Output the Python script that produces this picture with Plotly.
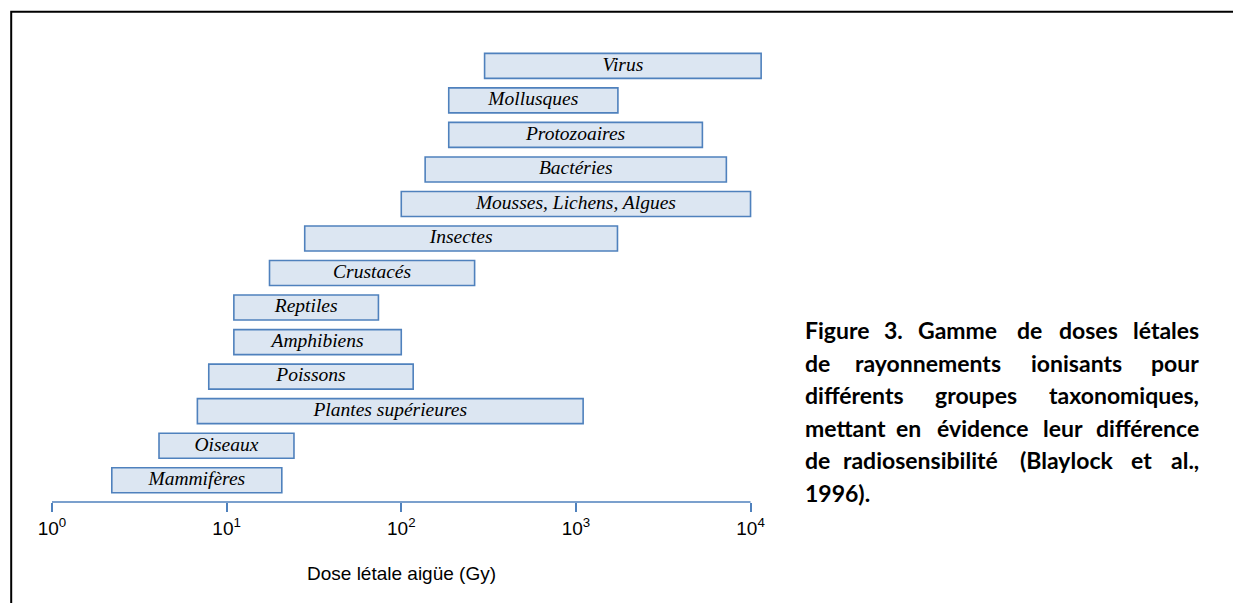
import plotly.graph_objects as go
import numpy as np

# ---------------- data ----------------
groups = ["Mammifères", "Oiseaux", "Plantes supérieures", "Poissons", "Amphibiens",
          "Reptiles", "Crustacés", "Insectes", "Mousses, Lichens, Algues",
          "Bactéries", "Protozoaires", "Mollusques", "Virus"]
dose_min = [2.2, 4.1, 6.8, 7.9, 11, 11, 17.6, 28, 100, 137, 187, 187, 300]
dose_max = [20.7, 24.3, 1100, 117, 100, 74, 263, 1730, 10000, 7270, 5300, 1740, 11500]
tick_vals = [1, 10, 100, 1000, 10000]
tick_text = ["10<sup>0</sup>", "10<sup>1</sup>", "10<sup>2</sup>", "10<sup>3</sup>", "10<sup>4</sup>"]
axis_title = "Dose létale aigüe (Gy)"
caption_lines = [
    ["Figure", "3.", "Gamme", "de", "doses", "létales"],
    ["de", "rayonnements", "ionisants", "pour"],
    ["différents", "groupes", "taxonomiques,"],
    ["mettant", "en", "évidence", "leur", "différence"],
    ["de", "radiosensibilité", "(Blaylock", "et", "al.,"],
    ["1996)."],
]

# ---------------- layout geometry (pixels) ----------------
W, H = 1233, 603
ML, MR, MT, MB = 52, 465, 45, 101
PW, PH = W - ML - MR, H - MT - MB
X_RANGE = [0, 4.1]
STEP = 34.53
y_bottom = -0.631
y_top = y_bottom + PH / STEP

def pxx(px):
    return (px - ML) / PW

def pxy(py):
    return (H - MB - py) / PH

blue = "#4F81BD"
fill = "#DCE6F2"

y_pos = list(range(len(groups)))
lo = np.array(dose_min, dtype=float)
hi = np.array(dose_max, dtype=float)
centers = 10 ** ((np.log10(lo) + np.log10(hi)) / 2)

fig = go.Figure()
fig.add_trace(go.Bar(
    y=y_pos, x=hi - lo, base=lo, orientation="h", width=0.724,
    marker=dict(color=fill, line=dict(color=blue, width=1.6)),
    hoverinfo="skip", showlegend=False,
))
fig.add_trace(go.Scatter(
    y=y_pos, x=centers, mode="text", text=groups,
    textposition="middle center", cliponaxis=False,
    textfont=dict(family="Liberation Serif, Times New Roman, serif", size=19.5,
                  color="black", style="italic"),
    hoverinfo="skip", showlegend=False,
))

fig.update_xaxes(
    type="log", range=X_RANGE, showgrid=False, zeroline=False,
    showline=False,
    ticks="outside", ticklen=9, tickwidth=1.6, tickcolor=blue,
    tickvals=tick_vals, ticktext=tick_text,
    tickfont=dict(family="Liberation Sans, Arial, sans-serif", size=19, color="black"),
    automargin=False,
)
fig.update_yaxes(visible=False, range=[y_bottom, y_top], automargin=False)

annotations = [dict(
    text=axis_title, xref="paper", yref="paper", x=pxx(401), y=pxy(573),
    xanchor="center", yanchor="middle", showarrow=False,
    font=dict(family="Liberation Sans, Arial, sans-serif", size=19, color="black"),
)]

# caption, justified word by word
cap_font = dict(family="Lato, Open Sans, sans-serif", size=23, color="black", weight="bold")
word_x = [
    [("l", 803), ("c", 893), ("c", 958), ("c", 1029), ("c", 1088), ("r", 1201)],
    [("l", 803), ("c", 928), ("c", 1076), ("r", 1201)],
    [("l", 803), ("c", 976), ("r", 1201)],
    [("l", 803), ("c", 908), ("c", 982), ("c", 1063), ("r", 1201)],
    [("l", 803), ("c", 921), ("c", 1066), ("c", 1141), ("r", 1201)],
    [("l", 803)],
]
anch = {"l": "left", "c": "center", "r": "right"}
for i, (words, pos) in enumerate(zip(caption_lines, word_x)):
    baseline = 338 + 32.6 * i
    for w, (a, px) in zip(words, pos):
        annotations.append(dict(
            text=w, xref="paper", yref="paper", x=pxx(px), y=pxy(baseline - 8),
            xanchor=anch[a], yanchor="middle", showarrow=False, font=cap_font,
        ))

shapes = [
    dict(type="path", xref="paper", yref="paper",
         path=f"M {pxx(11.2)},{pxy(620)} L {pxx(11.2)},{pxy(11.8)} L {pxx(1250)},{pxy(11.8)}",
         line=dict(color="black", width=2)),
    # axis line from 10^0 to 10^4
    dict(type="line", xref="x", yref="paper", x0=tick_vals[0], x1=tick_vals[-1], y0=0, y1=0,
         line=dict(color=blue, width=1.6)),
]

fig.update_layout(
    width=W, height=H, margin=dict(l=ML, r=MR, t=MT, b=MB, autoexpand=False),
    paper_bgcolor="white", plot_bgcolor="white",
    annotations=annotations, shapes=shapes, showlegend=False,
)

fig.write_html("out.html", config={"displayModeBar": False},
               post_script="document.body.style.margin='0';document.body.style.padding='0';")
